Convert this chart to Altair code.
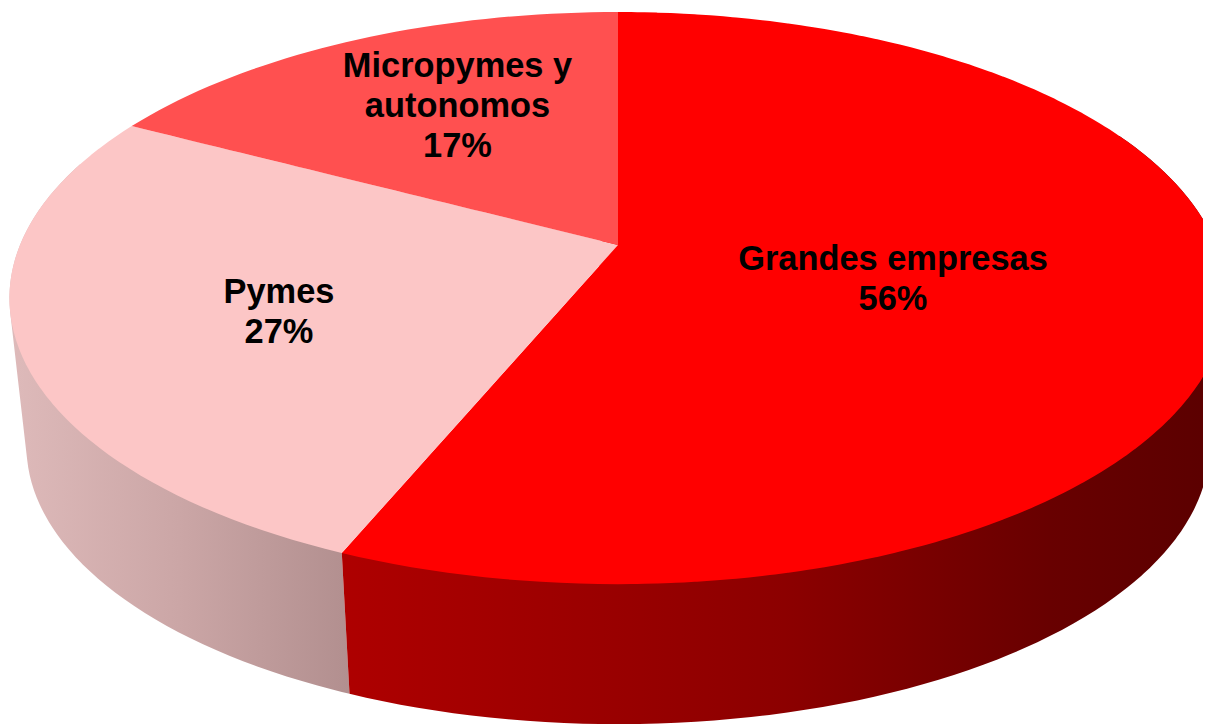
import math
import altair as alt
import pandas as pd

# --- chart values ---
CATEGORIES = ["Grandes empresas", "Pymes", "Micropymes y\nautonomos"]
SHARES = [56.25, 26.5, 17.25]        # slice sizes
SHARE_LABELS = ["56%", "27%", "17%"]  # as printed
TOP_COLORS = ["#FF0000", "#FCC6C6", "#FF5050"]

# --- layout of the perspective drawing (pixels in the 1211x724 window) ---
PAGE_MARGIN = 8
PLOT_W, PLOT_H = 1195, 716
APEX_X, APEX_Y = 618, 245      # where the slices meet
K_X, K_Y = 598, 276.2          # disc radius on screen, horizontally and vertically
TILT = 0.1856                  # perspective foreshortening of the disc
BASE_SCALE = 0.972             # the base disc is further from the viewer
BASE_DROP = 149.5 / K_Y        # depth of the side wall
LABEL_ANCHORS = [(893, 270), (279, 303), (457.5, 77)]  # first baseline of each label
FONT_SIZE = 34.4
LINE_HEIGHT = 40
WALL_STOPS = {
    0: [("#AE0000", 0.0), ("#8C0000", 0.5), ("#680000", 0.8), ("#5A0000", 1.0)],
    1: [("#DEBABA", 0.0), ("#CBA6A6", 0.5), ("#B28F8F", 1.0)],
}
STEPS = 240


def project(turn):
    """Point of the disc rim, clockwise from the top, as plane coordinates."""
    a = 2 * math.pi * turn
    X, Y = math.sin(a), math.cos(a)
    w = 1 + TILT * Y
    return round(X / w, 9), round(Y / w, 9)


def rim(t0, t1):
    n = max(2, int(STEPS * (t1 - t0)))
    return [project(t0 + (t1 - t0) * i / n) for i in range(n + 1)]


def to_base(p):
    return p[0] * BASE_SCALE, p[1] * BASE_SCALE - BASE_DROP


def hull(points):
    pts = sorted(set(points))
    def cross(o, a, b):
        return (a[0]-o[0])*(b[1]-o[1]) - (a[1]-o[1])*(b[0]-o[0])
    lower, upper = [], []
    for p in pts:
        while len(lower) >= 2 and cross(lower[-2], lower[-1], p) <= 0:
            lower.pop()
        lower.append(p)
    for p in reversed(pts):
        while len(upper) >= 2 and cross(upper[-2], upper[-1], p) <= 0:
            upper.pop()
        upper.append(p)
    return lower[:-1] + upper[:-1]


def band(poly):
    """Turn a polygon into x / y / y2 rows for an area mark."""
    xs = sorted({p[0] for p in poly})
    rows = []
    for x in xs:
        ys = []
        for (x0, y0), (x1, y1) in zip(poly, poly[1:] + poly[:1]):
            if min(x0, x1) <= x <= max(x0, x1):
                if x0 == x1:
                    ys += [y0, y1]
                else:
                    ys.append(y0 + (y1 - y0) * (x - x0) / (x1 - x0))
        rows.append({"x": x, "y": max(ys), "y2": min(ys)})
    return pd.DataFrame(rows)


x_scale = alt.Scale(domain=[(PAGE_MARGIN - APEX_X) / K_X,
                            (PAGE_MARGIN + PLOT_W - APEX_X) / K_X],
                    nice=False, zero=False)
y_scale = alt.Scale(domain=[(APEX_Y - PAGE_MARGIN - PLOT_H) / K_Y,
                            (APEX_Y - PAGE_MARGIN) / K_Y],
                    nice=False, zero=False)


def area(df, color):
    return alt.Chart(df).mark_area(color=color, clip=True, strokeWidth=0).encode(
        x=alt.X("x:Q", scale=x_scale, axis=None),
        y=alt.Y("y:Q", scale=y_scale, axis=None),
        y2="y2:Q",
    )


total = sum(SHARES)
starts = [sum(SHARES[:i]) / total for i in range(len(SHARES))]
ends = [sum(SHARES[:i + 1]) / total for i in range(len(SHARES))]

layers = []

# side walls, from the visible part of the rim of each slice
wall_ranges = {1: (ends[0], 0.80), 0: (0.18, ends[0])}
for idx, (t0, t1) in wall_ranges.items():
    top = rim(t0, t1)
    grad = alt.Gradient(
        gradient="linear", x1=0, x2=1, y1=0, y2=0,
        stops=[alt.GradientStop(color=c, offset=o) for c, o in WALL_STOPS[idx]],
    )
    layers.append(area(band(hull(top + [to_base(p) for p in top])), grad))

# top faces
for i, color in enumerate(TOP_COLORS):
    poly = [(0.0, 0.0)] + rim(starts[i], ends[i])
    layers.append(area(band(poly), color))

# labels
for cat, share, (lx, ly) in zip(CATEGORIES, SHARE_LABELS, LABEL_ANCHORS):
    df = pd.DataFrame({"label": [f"{cat}\n{share}"]})
    layers.append(
        alt.Chart(df).mark_text(
            font="Liberation Sans", fontWeight="bold", fontSize=FONT_SIZE,
            color="#000000", align="center", baseline="alphabetic",
            lineBreak="\n", lineHeight=LINE_HEIGHT,
        ).encode(
            x=alt.value(lx - PAGE_MARGIN),
            y=alt.value(ly - PAGE_MARGIN),
            text="label:N",
        )
    )

chart = alt.layer(*layers).properties(
    width=PLOT_W,
    height=PLOT_H,
    padding=0,
    background="white",
).configure_view(strokeWidth=0)

chart.save("out.html", embed_options={"renderer": "svg", "actions": False})
